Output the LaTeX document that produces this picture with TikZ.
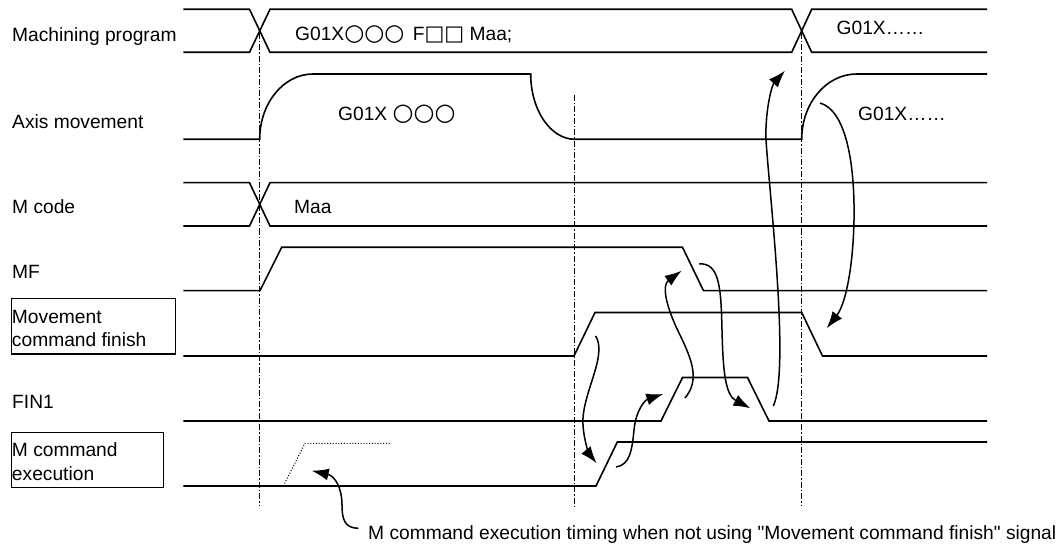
\documentclass[tikz,border=0pt]{standalone}
\usepackage{fontspec}
\setmainfont{Liberation Sans}[Ligatures=TeXOff]
\newfontfamily\symfont{DejaVu Sans}
\usetikzlibrary{arrows.meta}
\begin{document}
\begin{tikzpicture}[x=1bp,y=-1bp,
  sig/.style={line width=1.6bp, line join=miter},
  guide/.style={line width=0.9bp, dash pattern=on 6bp off 2bp on 1.5bp off 2bp},
  flow/.style={line width=1.5bp, -{Latex[length=17bp,width=12bp]}},
  lbl/.style={anchor=base west, inner sep=0pt, font=\fontsize{19.2bp}{22bp}\selectfont},
  sigbox/.style={draw, line width=1.2bp, inner sep=0pt, anchor=north west}]
\fill[white] (0,0) rectangle (1060,544);
\useasboundingbox (0,0) rectangle (1060,544);

% guides (dash-dot)
\draw[guide] (259.7,33) -- (259.7,506);
\draw[guide] (574,95) -- (574,506);
\draw[guide] (801.7,33) -- (801.7,506);

% Machining program
\draw[sig] (183.3,9.3) -- (249.5,9.3) -- (270,52.3) -- (791.7,52.3) -- (811.7,9.3) -- (987,9.3);
\draw[sig] (183.3,52.3) -- (249.5,52.3) -- (270,9.3) -- (791.7,9.3) -- (811.7,52.3) -- (987,52.3);

% Axis movement
\draw[sig] (183.3,139.3) -- (259.7,139.3) .. controls (259.7,103.2) and (283.6,74) .. (313,74)
  -- (530.7,74) .. controls (530.7,110) and (550.5,139.3) .. (575,139.3)
  -- (801.7,139.3) .. controls (801.7,103.2) and (826.3,74) .. (856.7,74) -- (987,74);

% M code
\draw[sig] (183.3,182.7) -- (249.5,182.7) -- (270,226) -- (987,226);
\draw[sig] (183.3,226) -- (249.5,226) -- (270,182.7) -- (987,182.7);

% MF
\draw[sig] (183.3,290.7) -- (260,290.7) -- (281.7,247.3) -- (682.5,247.3) -- (703.5,290.7) -- (987,290.7);

% Movement command finish
\draw[sig] (183.3,356) -- (574,356) -- (595,312.5) -- (801.7,312.5) -- (822.5,356) -- (987,356);

% FIN1
\draw[sig] (183.3,421) -- (661,421) -- (682.5,377.5) -- (747.5,377.5) -- (769,421) -- (987,421);

% M command execution
\draw[sig] (183.3,486) -- (596,486) -- (617.3,442) -- (987,442);
\draw[line width=1bp, dash pattern=on 1bp off 1.8bp] (283.3,486) -- (305,443.3) -- (391.7,443.3);

% labels
\node[lbl] (lmp) at (12,41.7) {Machining program};
\node[lbl] (lax) at (12,128.3) {Axis movement};
\node[lbl] (lmc) at (12,213.3) {M code};
\node[lbl] (lmf) at (12,278.3) {MF};
\node[sigbox, minimum width=164.3bp, minimum height=55bp] (bmcf) at (10.7,298.3) {};
\node[lbl] (lmcf1) at (11.8,323.3) {Movement};
\node[lbl] (lmcf2) at (11.8,346.7) {command finish};
\node[lbl] (lfin) at (12,408.3) {FIN1};
\node[sigbox, minimum width=152bp, minimum height=55bp] (bmce) at (10.7,431.7) {};
\node[lbl] (lmce1) at (11.8,456.7) {M command};
\node[lbl] (lmce2) at (11.8,480) {execution};

% texts inside signals
\node[lbl] (t1) at (295,40.5) {G01X{\symfont\fontsize{23bp}{22bp}\selectfont ○○○}\hspace{3bp} F{\symfont\fontsize{21bp}{22bp}\selectfont □□} Maa;};
\node[lbl] (t2) at (836.5,34.7) {G01X……};
\node[lbl] (t3) at (338,120.7) {G01X {\symfont\fontsize{24bp}{22bp}\selectfont ○○○}};
\node[lbl] (t4) at (858,120.7) {G01X……};
\node[lbl] (t5) at (368,539.3) {M command execution timing when not using "Movement command finish" signal};
\node[lbl] (t6) at (294,213.3) {Maa};

% causal arrows
\draw[flow] (595.7,336) .. controls (608,356) and (581,395) .. (583,425) .. controls (584,442) and (590,455) .. (596.7,463.3);
\draw[flow] (616,467) .. controls (630,465) and (632,450) .. (634,430) .. controls (636,410) and (645,400) .. (663.3,394);
\draw[flow] (685,398) .. controls (700,380) and (692,360) .. (680,335) .. controls (665,305) and (662,285) .. (681.7,270.7);
\draw[flow] (699,264) .. controls (720,262) and (721,290) .. (722,330) .. controls (723,370) and (725,395) .. (750.5,408.3);
\draw[flow] (773.3,406) .. controls (790,370) and (770,200) .. (766,140) .. controls (765,110) and (772,85) .. (785,70.7);
\draw[flow] (820,103) .. controls (845,110) and (855,160) .. (854,220) .. controls (853,270) and (845,305) .. (826.7,328.3);
\draw[flow] (358.3,528.3) .. controls (345,528) and (342,520) .. (342,505) .. controls (342,488) and (335,476) .. (311.7,470.7);
\end{tikzpicture}
\end{document}
